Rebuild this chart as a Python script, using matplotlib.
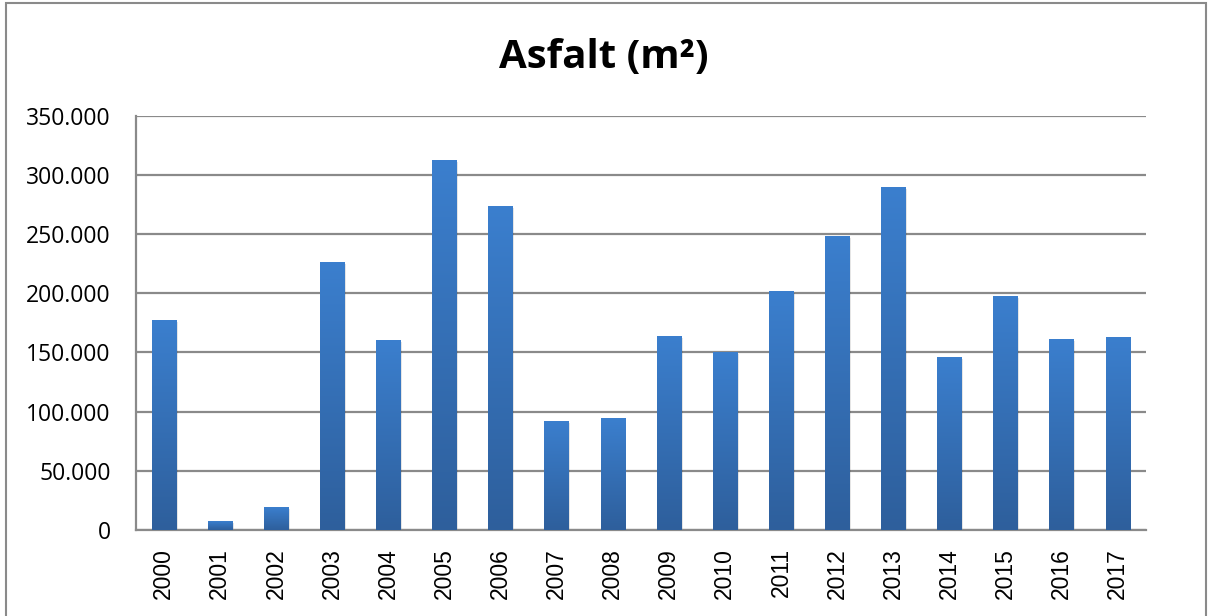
import numpy as np
import matplotlib
matplotlib.use("Agg")
import matplotlib.pyplot as plt
from matplotlib.patches import Rectangle
from matplotlib.colors import LinearSegmentedColormap
from matplotlib.ticker import FuncFormatter

years = [str(y) for y in range(2000, 2018)]
values = [177400, 7600, 19400, 226400, 160500, 312600, 273700, 92100, 94600,
          163900, 150400, 201900, 248400, 289800, 146200, 197700, 161400, 163100]
yticks = [0, 50000, 100000, 150000, 200000, 250000, 300000, 350000]
title = "Asfalt (m²)"

W, H = 1208, 616
fig = plt.figure(figsize=(W / 100, H / 100), dpi=100)
ax = fig.add_axes([135.7 / W, 1 - 530 / H, (1145.7 - 135.7) / W, (530 - 115.7) / H])

# outer frame
fig.patches.append(Rectangle((6 / W, -0.05), (1206 - 6) / W, 1.05 - 3 / H,
                             transform=fig.transFigure, fill=False,
                             edgecolor="#8a8a8a", linewidth=1.5))

x = np.arange(len(years))
bars = ax.bar(x, values, width=0.43, color="#3670b8", zorder=3)

cmap = LinearSegmentedColormap.from_list("g", ["#2e5f9c", "#3b7fce"])
grad = np.linspace(0, 1, 256).reshape(-1, 1)
for b in bars:
    x0, y0 = b.get_x(), b.get_y()
    w, h = b.get_width(), b.get_height()
    # soft shadow
    ax.add_patch(Rectangle((x0 + 0.03, y0 - 1500), w, h, facecolor="#000000",
                           alpha=0.10, edgecolor="none", zorder=2))
    im = ax.imshow(grad, cmap=cmap, origin="lower", aspect="auto",
                   extent=[x0, x0 + w, y0, y0 + h], zorder=4)
    im.set_clip_path(b)

ax.set_xlim(-0.5, len(years) - 0.5)
ax.set_ylim(0, 350000)
ax.set_yticks(yticks)
ax.yaxis.set_major_formatter(FuncFormatter(lambda v, p: f"{int(v):,}".replace(",", ".")))
ax.set_xticks(x)
ax.set_xticklabels(years, rotation=90, fontfamily="Liberation Sans", fontsize=16.5)

for lab in ax.get_yticklabels():
    lab.set_fontfamily("Open Sans")
    lab.set_fontsize(16.5)
    lab.set_color("#000000")

ax.tick_params(axis="y", length=0, pad=18)
ax.tick_params(axis="x", length=0, pad=13)
ax.grid(axis="y", color="#8a8a8a", linewidth=1.6, zorder=0)
ax.set_axisbelow(True)
for s in ["top", "right"]:
    ax.spines[s].set_visible(False)
for s in ["left", "bottom"]:
    ax.spines[s].set_color("#8a8a8a")
    ax.spines[s].set_linewidth(1.6)

fig.text(0.5, 1 - 58 / H, title, ha="center", va="center", fontsize=29,
         fontweight="bold", fontfamily="Open Sans")

fig.savefig("out.png", dpi=100)
